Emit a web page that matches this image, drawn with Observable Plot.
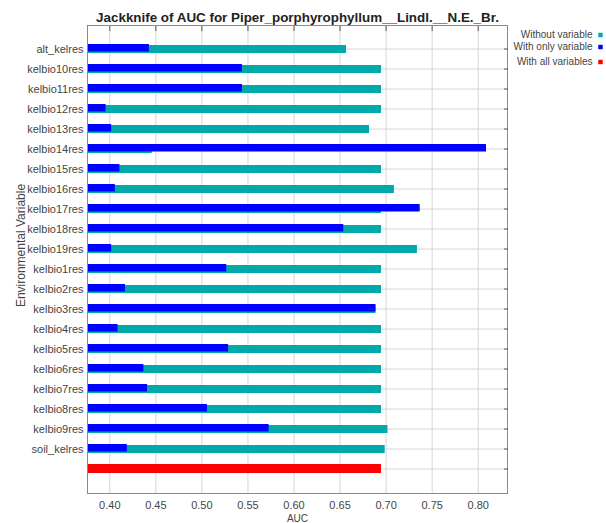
<!DOCTYPE html>
<html>
<head>
<meta charset="utf-8">
<script src="https://cdn.jsdelivr.net/npm/d3@7"></script>
<script src="https://cdn.jsdelivr.net/npm/@observablehq/plot@0.6"></script>
<style>
  html, body { margin: 0; padding: 0; background: #fff; }
  #chart svg { display: block; }
</style>
</head>
<body>
<div id="chart"></div>
<script>
const title = "Jackknife of AUC for Piper_porphyrophyllum__Lindl.__N.E._Br.";
const variables = [
  "alt_kelres", "kelbio10res", "kelbio11res", "kelbio12res", "kelbio13res",
  "kelbio14res", "kelbio15res", "kelbio16res", "kelbio17res", "kelbio18res",
  "kelbio19res", "kelbio1res", "kelbio2res", "kelbio3res", "kelbio4res",
  "kelbio5res", "kelbio6res", "kelbio7res", "kelbio8res", "kelbio9res", "soil_kelres"
];
const withoutVariable = [
  0.657, 0.695, 0.695, 0.695, 0.682,
  0.446, 0.695, 0.709, 0.695, 0.695,
  0.734, 0.695, 0.695, 0.689, 0.695,
  0.695, 0.695, 0.695, 0.695, 0.702, 0.699
];
const withOnlyVariable = [
  0.443, 0.544, 0.544, 0.396, 0.402,
  0.809, 0.411, 0.406, 0.737, 0.654,
  0.402, 0.527, 0.417, 0.689, 0.409,
  0.529, 0.437, 0.441, 0.506, 0.573, 0.419
];
const withAllVariables = 0.695;
const xTicks = [0.40, 0.45, 0.50, 0.55, 0.60, 0.65, 0.70, 0.75, 0.80];
const legendLabels = ["Without variable", "With only variable", "With all variables"];
const colors = ["#00aaaa", "#0000ff", "#ff0000"];
const xLabel = "AUC";
const yLabel = "Environmental Variable";

const ALL = " ";
const X0 = 0.3758, X1 = 0.8318;
const rows = variables.map((name, i) => ({name, without: withoutVariable[i], only: withOnlyVariable[i]}));
const allRow = [{name: ALL, value: withAllVariables}];
const legendOffsets = [9.5, 21.5, 36.5];
const font = "'Liberation Sans', Arial, sans-serif";
const textColor = "#444";

const legendMarks = legendLabels.flatMap((label, i) => [
  Plot.text([label], {frameAnchor: "top-right", dx: 85, dy: legendOffsets[i], lineAnchor: "middle", textAnchor: "end",
    text: d => d, fontSize: 10, fill: textColor}),
  Plot.dot([label], {frameAnchor: "top-right", dx: 93, dy: legendOffsets[i], symbol: "square", r: 2.5, fill: colors[i], stroke: null})
]);

const chart = Plot.plot({
  width: 606,
  height: 523,
  marginTop: 25,
  marginBottom: 30,
  marginLeft: 87,
  marginRight: 99,
  style: {fontFamily: font, background: "#fff", overflow: "visible"},
  x: {domain: [X0, X1]},
  y: {domain: [...variables, ALL], paddingInner: 0.529, paddingOuter: 0.8, align: 0.5},
  marks: [
    Plot.gridX(xTicks, {stroke: "#d6d6d6", strokeOpacity: 1}),
    Plot.gridY([...variables, ALL], {stroke: "#d6d6d6", strokeOpacity: 1}),
    Plot.barX(rows, {y: "name", x1: () => X0, x2: "without", fill: colors[0], insetTop: 1}),
    Plot.barX(rows, {y: "name", x1: () => X0, x2: "only", fill: colors[1], insetBottom: 1.5}),
    Plot.barX(allRow, {y: "name", x1: () => X0, x2: "value", fill: colors[2]}),
    Plot.frame({stroke: "#8a8a8a"}),
    Plot.axisX(xTicks, {anchor: "bottom", tickSize: 0, tickPadding: 8, tickFormat: d3.format(".2f"), fontSize: 11, fill: textColor, label: null}),
    Plot.axisX(xTicks, {anchor: "top", tickSize: -5, tickFormat: () => "", stroke: "#555", label: null}),
    Plot.axisY({anchor: "left", tickSize: 0, tickPadding: 4, fontSize: 11, fill: textColor, label: null}),
    Plot.axisY({anchor: "right", tickSize: -4, tickFormat: () => "", stroke: "#555", label: null}),
    Plot.text([title], {frameAnchor: "top", dy: -8, lineAnchor: "middle", text: d => d, fontSize: 13.4, fontWeight: "bold", fill: "#222"}),
    Plot.text([xLabel], {frameAnchor: "bottom", dy: 21, lineAnchor: "top", text: d => d, fontSize: 10, fill: textColor}),
    Plot.text([yLabel], {frameAnchor: "left", dx: -66, dy: -14, rotate: -90, textAnchor: "middle", lineAnchor: "middle", text: d => d, fontSize: 12, fill: textColor}),
    ...legendMarks
  ]
});
document.getElementById("chart").append(chart);
</script>
</body>
</html>
